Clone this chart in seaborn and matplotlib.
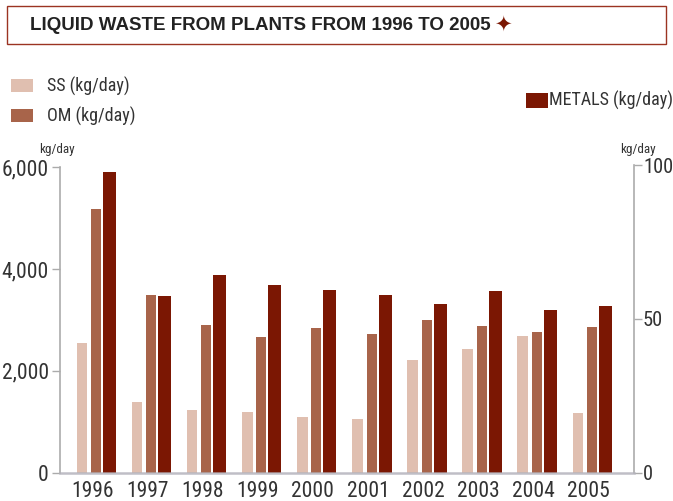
import matplotlib
matplotlib.use("Agg")
import matplotlib.pyplot as plt
from matplotlib import font_manager
from matplotlib.patches import Rectangle
import pandas as pd
import seaborn as sns

# ---- data -------------------------------------------------------------
years = [1996, 1997, 1998, 1999, 2000, 2001, 2002, 2003, 2004, 2005]
ss_kg_day = [2550, 1390, 1230, 1190, 1090, 1050, 2210, 2430, 2690, 1170]
om_kg_day = [5180, 3490, 2900, 2670, 2840, 2720, 3000, 2880, 2760, 2860]
metals_kg_day = [97.8, 57.5, 64.3, 61.1, 59.4, 57.8, 54.9, 59.1, 52.9, 54.2]

left_ticks = [0, 2000, 4000, 6000]
left_tick_labels = ["0", "2,000", "4,000", "6,000"]
right_ticks = [0, 50, 100]
right_tick_labels = ["0", "50", "100"]

title_text = "LIQUID WASTE FROM PLANTS FROM 1996 TO 2005"
ss_label = "SS (kg/day)"
om_label = "OM (kg/day)"
metals_label = "METALS (kg/day)"
unit_label = "kg/day"

# ---- style --------------------------------------------------------------
C_SS = "#e0bfb0"
C_OM = "#a8644a"
C_MET = "#7b1703"
C_TEXT = "#333333"
C_AXIS = "#ababab"

sns.set_style("white")


def pick_font(cands):
    for name in cands:
        try:
            font_manager.findfont(font_manager.FontProperties(family=name),
                                  fallback_to_default=False)
            return name
        except Exception:
            continue
    return "DejaVu Sans"


FONT = pick_font(["Liberation Sans Narrow", "Roboto Condensed",
                  "Open Sans Condensed", "Liberation Sans"])
TITLE_FONT = pick_font(["Liberation Sans", "Roboto"])
plt.rcParams["font.family"] = [FONT, "DejaVu Sans"]

W, H = 673, 501
fig = plt.figure(figsize=(W / 100, H / 100), dpi=100)


def fx(px):
    return px / W


def fy(py):
    return 1 - py / H


# plot areas in pixels (the right scale reaches a touch higher)
ax_left, ax_right, ax_bottom = 60, 634, 472.7
left_top, right_top = 167.3, 165.3
ax = fig.add_axes([fx(ax_left), fy(ax_bottom), (ax_right - ax_left) / W,
                   (ax_bottom - left_top) / H])
ax2 = fig.add_axes([fx(ax_left), fy(ax_bottom), (ax_right - ax_left) / W,
                    (ax_bottom - right_top) / H], sharex=ax)

df = pd.DataFrame({"year": years, "ss": ss_kg_day, "om": om_kg_day,
                   "metals": metals_kg_day})

common = dict(native_scale=True, errorbar=None, saturation=1, linewidth=0)
sns.barplot(x=df["year"] - 0.26, y=df["ss"], width=0.193, color=C_SS,
            ax=ax, **common)
sns.barplot(x=df["year"] - 0.005, y=df["om"], width=0.181, color=C_OM,
            ax=ax, **common)
sns.barplot(x=df["year"] + 0.24, y=df["metals"], width=0.236, color=C_MET,
            ax=ax2, **common)

xmin, xmax = years[0] - 0.659, years[-1] + 0.759
for a in (ax, ax2):
    a.set_xlim(xmin, xmax)
    a.set_xlabel("")
    a.set_ylabel("")
    a.set_facecolor("none")
    a.grid(False)

ax.set_ylim(0, 6000)
ax2.set_ylim(0, 100)

ax.set_yticks(left_ticks)
ax.set_yticklabels(left_tick_labels)
ax2.yaxis.tick_right()
ax2.set_yticks(right_ticks)
ax2.set_yticklabels(right_tick_labels)

ax.set_xticks([y - 0.07 for y in years])
ax.set_xticklabels([str(y) for y in years])
ax2.tick_params(axis="x", bottom=False, labelbottom=False)

ax.tick_params(axis="x", length=0, pad=6, labelsize=15.5, labelcolor=C_TEXT)
ax.tick_params(axis="y", left=True, length=6, width=1, color=C_AXIS, pad=2,
               labelsize=15.5, labelcolor=C_TEXT)
ax2.tick_params(axis="y", left=False, right=True, length=5.5, width=1,
                color=C_AXIS, pad=1, labelsize=14.8, labelcolor=C_TEXT)

for a in (ax, ax2):
    a.spines["top"].set_visible(False)
ax.spines["right"].set_visible(False)
ax.spines["bottom"].set_visible(False)
ax.spines["left"].set_color(C_AXIS)
ax.spines["left"].set_linewidth(1.2)
ax2.spines["left"].set_visible(False)
ax2.spines["right"].set_color(C_AXIS)
ax2.spines["right"].set_linewidth(1.2)
ax2.spines["bottom"].set_visible(True)
ax2.spines["bottom"].set_color("#b4b3bc")
ax2.spines["bottom"].set_alpha(0.85)
ax2.spines["bottom"].set_linewidth(1.8)
ax2.spines["bottom"].set_zorder(5)

# unit captions above each axis
fig.text(fx(57), fy(149), unit_label, ha="center", va="center",
         fontsize=9.5, color=C_TEXT)
fig.text(fx(638), fy(149), unit_label, ha="center", va="center",
         fontsize=9.5, color=C_TEXT)


# legend swatches and labels
def swatch(x0, y0, x1, y1, color):
    fig.patches.append(Rectangle((fx(x0), fy(y1)), (x1 - x0) / W,
                                 (y1 - y0) / H, transform=fig.transFigure,
                                 facecolor=color, edgecolor="none"))


swatch(11, 79, 33, 92, C_SS)
swatch(11, 109, 33, 122, C_OM)
swatch(526, 93, 548, 108, C_MET)
fig.text(fx(47), fy(86), ss_label, ha="left", va="center", fontsize=13,
         color=C_TEXT)
fig.text(fx(47), fy(116), om_label, ha="left", va="center", fontsize=13,
         color=C_TEXT)
fig.text(fx(549), fy(100), metals_label, ha="left", va="center",
         fontsize=13, color=C_TEXT)

# title box with the heading and a star right after it
fig.patches.append(Rectangle((fx(7), fy(44)), (666 - 7) / W, (44 - 6) / H,
                             transform=fig.transFigure, facecolor="white",
                             edgecolor="#9b3322", linewidth=1.0))
title = fig.text(fx(30), fy(26), title_text, ha="left", va="center",
                 fontsize=13.5, fontweight="bold", color="#222222",
                 family=[TITLE_FONT, "DejaVu Sans"])
fig.canvas.draw()
tb = title.get_window_extent()
fig.text((tb.x1 + 12) / W, fy(25.5), "\u2726", ha="center", va="center",
         fontsize=15, color=C_MET, family="DejaVu Sans")

fig.savefig("out.png", dpi=100)
